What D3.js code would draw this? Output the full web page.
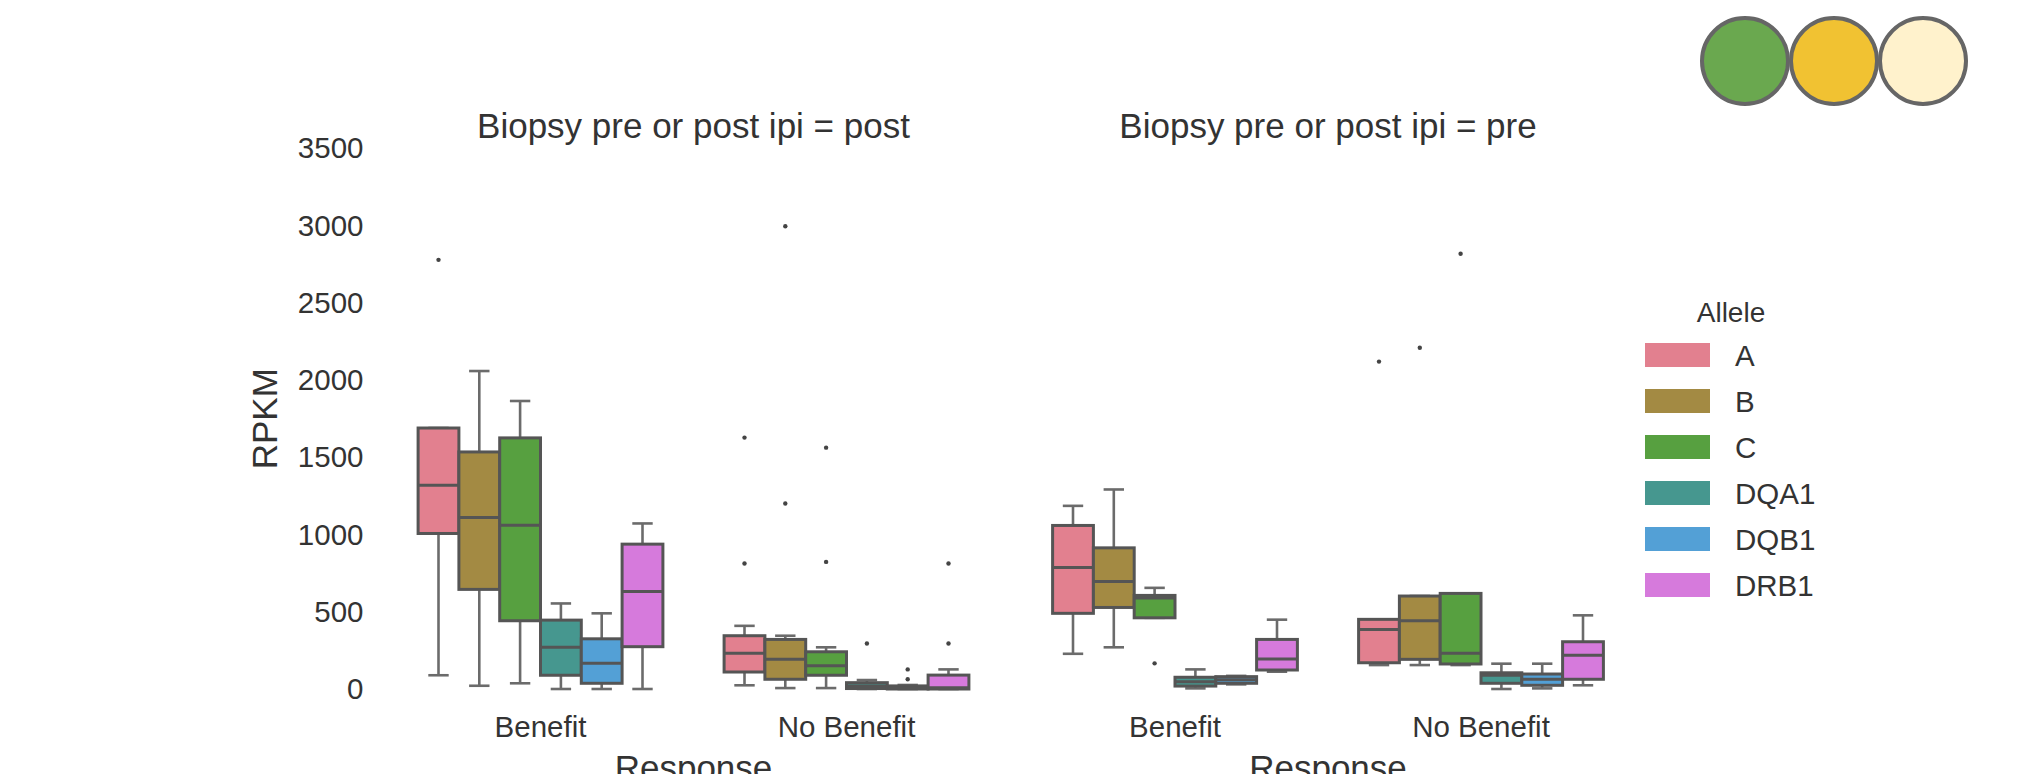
<!DOCTYPE html>
<html>
<head>
<meta charset="utf-8">
<script src="https://cdn.jsdelivr.net/npm/d3@7"></script>
<style>
  body { margin: 0; background: #fff; }
  svg text { font-family: "Liberation Sans", Arial, sans-serif; fill: #333; }
</style>
</head>
<body>
<svg id="chart" width="2029" height="774"></svg>
<script>
const FONT_TICK = 29.5;
const FONT_LABEL = 35;

const facets = ['post', 'pre'];
const responses = ['Benefit', 'No Benefit'];
const alleles = ['A', 'B', 'C', 'DQA1', 'DQB1', 'DRB1'];
const alleleColors = ['#e2808f', '#a38a43', '#57a040', '#46978f', '#53a0d6', '#d67adc'];
const yTicks = [0, 500, 1000, 1500, 2000, 2500, 3000, 3500];
const badgeColors = ['#6aa84f', '#f1c232', '#fff2cc'];

// [lower whisker, q1, median, q3, upper whisker] per allele
const postBenefit = [
  [89, 1007, 1320, 1690, 1690],
  [21, 645, 1111, 1535, 2059],
  [37, 442, 1061, 1626, 1865],
  [0, 89, 270, 446, 554],
  [0, 37, 166, 325, 490],
  [0, 274, 632, 938, 1072]
];
const postBenefitOut = [[2779], [], [], [], [], []];

const postNoBenefit = [
  [24, 110, 231, 345, 409],
  [6, 63, 192, 321, 345],
  [6, 89, 151, 241, 270],
  [0, 3, 20, 41, 58],
  [0, 0, 5, 20, 26],
  [0, 0, 8, 90, 127]
];
const postNoBenefitOut = [[1628, 813], [2997, 1201], [1563, 823], [295], [127, 63], [813, 295]];

const preBenefit = [
  [228, 490, 787, 1059, 1186],
  [270, 528, 696, 914, 1292],
  [461, 461, 590, 606, 655],
  [4, 19, 47, 76, 127],
  [30, 37, 60, 80, 85],
  [112, 123, 195, 321, 449]
];
const preBenefitOut = [[], [], [166], [], [], []];

const preNoBenefit = [
  [155, 170, 386, 451, 451],
  [155, 192, 442, 602, 602],
  [155, 162, 231, 619, 619],
  [0, 37, 89, 105, 164],
  [4, 24, 63, 97, 164],
  [24, 63, 218, 306, 477]
];
const preNoBenefitOut = [[2120], [2210], [2818], [], [], []];

const stats = {
  post: { 'Benefit': [postBenefit, postBenefitOut], 'No Benefit': [postNoBenefit, postNoBenefitOut] },
  pre: { 'Benefit': [preBenefit, preBenefitOut], 'No Benefit': [preNoBenefit, preNoBenefitOut] }
};

const svg = d3.select('svg#chart');

const y = d3.scaleLinear().domain([0, 3500]).range([689, 148.5]);
const facetRange = { post: [387.5, 999.5], pre: [1022, 1634] };
const color = d3.scaleOrdinal().domain(alleles).range(alleleColors);

facets.forEach((facet) => {
  const x = d3.scaleBand().domain(responses).range(facetRange[facet]);
  const hue = d3.scaleBand().domain(alleles)
    .range([x.bandwidth() * 0.1, x.bandwidth() * 0.9]);
  const boxW = hue.bandwidth();
  const g = svg.append('g');

  responses.forEach((resp) => {
    const [rows, outs] = stats[facet][resp];
    const boxes = rows.map((r, i) => ({ allele: alleles[i], lo: r[0], q1: r[1], med: r[2], q3: r[3], hi: r[4], out: outs[i] }));
    const cx = d => x(resp) + hue(d.allele) + boxW / 2;

    const bg = g.selectAll(null).data(boxes).enter().append('g');

    // whiskers
    bg.append('line')
      .attr('x1', cx).attr('x2', cx)
      .attr('y1', d => y(d.q3)).attr('y2', d => y(d.hi))
      .attr('stroke', '#6b6b6b').attr('stroke-width', 2.6);
    bg.append('line')
      .attr('x1', cx).attr('x2', cx)
      .attr('y1', d => y(d.q1)).attr('y2', d => y(d.lo))
      .attr('stroke', '#6b6b6b').attr('stroke-width', 2.6);
    // caps
    bg.append('line')
      .attr('x1', d => cx(d) - boxW / 4).attr('x2', d => cx(d) + boxW / 4)
      .attr('y1', d => y(d.hi)).attr('y2', d => y(d.hi))
      .attr('stroke', '#6b6b6b').attr('stroke-width', 2.6);
    bg.append('line')
      .attr('x1', d => cx(d) - boxW / 4).attr('x2', d => cx(d) + boxW / 4)
      .attr('y1', d => y(d.lo)).attr('y2', d => y(d.lo))
      .attr('stroke', '#6b6b6b').attr('stroke-width', 2.6);
    // box
    bg.append('rect')
      .attr('x', d => x(resp) + hue(d.allele))
      .attr('y', d => y(d.q3))
      .attr('width', boxW)
      .attr('height', d => Math.max(0.5, y(d.q1) - y(d.q3)))
      .attr('fill', d => color(d.allele))
      .attr('stroke', '#555')
      .attr('stroke-width', 3);
    // median
    bg.append('line')
      .attr('x1', d => x(resp) + hue(d.allele)).attr('x2', d => x(resp) + hue(d.allele) + boxW)
      .attr('y1', d => y(d.med)).attr('y2', d => y(d.med))
      .attr('stroke', '#555').attr('stroke-width', 3);
    // outliers
    bg.selectAll('circle')
      .data(d => d.out.map(v => ({ v, d })))
      .enter()
      .append('circle')
      .attr('cx', o => cx(o.d))
      .attr('cy', o => y(o.v))
      .attr('r', 2.2)
      .attr('fill', '#444');
  });

  // category labels
  const xAxis = svg.append('g')
    .attr('transform', `translate(0, 689)`)
    .call(d3.axisBottom(x).tickSize(0).tickPadding(27.5));
  xAxis.select('.domain').remove();
  xAxis.selectAll('text')
    .attr('font-size', FONT_TICK)
    .attr('font-family', null)
    .attr('fill', null);

  const mid = d3.mean(facetRange[facet]);
  svg.append('text')
    .attr('x', mid).attr('y', 138)
    .attr('text-anchor', 'middle')
    .attr('font-size', FONT_LABEL)
    .text(`Biopsy pre or post ipi = ${facet}`);

  // axis title sits partly below the page edge, as in the source figure
  svg.append('text')
    .attr('x', mid).attr('y', 780)
    .attr('text-anchor', 'middle')
    .attr('font-size', FONT_LABEL)
    .text('Response');
});

// y axis on the left facet only
const yAxis = svg.append('g')
  .attr('transform', `translate(${facetRange.post[0]}, 0)`)
  .call(d3.axisLeft(y).tickValues(yTicks).tickFormat(d3.format('d')).tickSize(0).tickPadding(24));
yAxis.select('.domain').remove();
yAxis.selectAll('text')
  .attr('font-size', FONT_TICK)
  .attr('font-family', null)
  .attr('fill', null);

svg.append('text')
  .attr('transform', `translate(277, ${(y(0) + y(3500)) / 2}) rotate(-90)`)
  .attr('text-anchor', 'middle')
  .attr('font-size', FONT_LABEL)
  .text('RPKM');

// legend
const legend = svg.append('g').attr('transform', 'translate(1645, 0)');
const ly = d3.scaleBand().domain(alleles).range([332, 608]);

legend.append('text')
  .attr('x', 86).attr('y', 322)
  .attr('text-anchor', 'middle')
  .attr('font-size', 28)
  .text('Allele');

legend.selectAll('rect')
  .data(alleles)
  .enter()
  .append('rect')
  .attr('x', 0)
  .attr('y', d => ly(d) + 11)
  .attr('width', 65)
  .attr('height', 24)
  .attr('fill', d => color(d));

legend.selectAll('text.lab')
  .data(alleles)
  .enter()
  .append('text')
  .attr('class', 'lab')
  .attr('x', 90)
  .attr('y', d => ly(d) + 34)
  .attr('font-size', FONT_TICK)
  .text(d => d);

// badge circles top right
const bx = d3.scalePoint().domain(badgeColors).range([1745, 1923]);
svg.selectAll('circle.badge')
  .data(badgeColors)
  .enter()
  .append('circle')
  .attr('class', 'badge')
  .attr('cx', d => bx(d))
  .attr('cy', 61)
  .attr('r', 43)
  .attr('fill', d => d)
  .attr('stroke', '#666')
  .attr('stroke-width', 4);
</script>
</body>
</html>
